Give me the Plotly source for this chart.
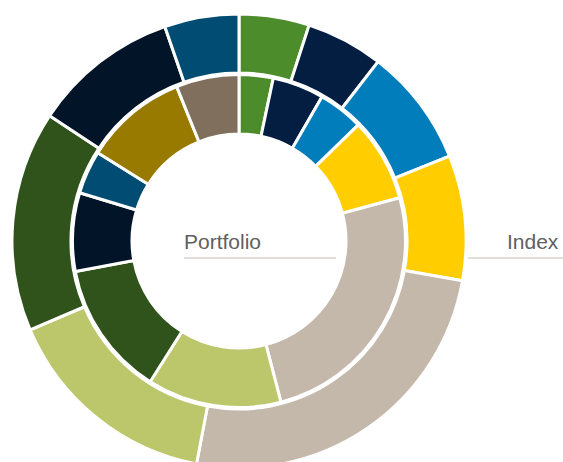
import plotly.graph_objects as go

# ---- data ----
categories = ["Cat 1", "Cat 2", "Cat 3", "Cat 4", "Cat 5", "Cat 6",
              "Cat 7", "Cat 8", "Cat 9", "Cat 10", "Cat 11"]
portfolio_values = [3.3, 5.0, 4.4, 8.1, 25.1, 13.0, 13.1, 7.6, 4.2, 10.0, 6.1]
index_categories = categories[:9]
index_values = [5.0, 5.5, 8.4, 8.9, 25.2, 15.6, 15.7, 10.4, 5.3]
colors = ["#4C8C2B", "#041E42", "#007DBA", "#FFCD00", "#C4B8AB", "#BCC66B",
          "#30531B", "#011428", "#004C73", "#997A00", "#7F6F5C"]
series_names = ["Portfolio", "Index"]

W, H = 563, 470
cx, cy = 239, 241          # centre in pixels from top-left
R_out, R_in = 227, 166.5   # outer radii of the two rings
hole_out = 168 / R_out
hole_in = 107 / R_in


def dom(r):
    return dict(x=[(cx - r) / W, (cx + r) / W],
                y=[(H - cy - r) / H, (H - cy + r) / H])


fig = go.Figure()
fig.add_trace(go.Pie(
    labels=index_categories, values=index_values, name=series_names[1],
    hole=hole_out, sort=False, direction="clockwise", rotation=0,
    marker=dict(colors=colors[:9], line=dict(color="white", width=3)),
    textinfo="none", hoverinfo="label+percent", domain=dom(R_out),
    showlegend=False))
fig.add_trace(go.Pie(
    labels=categories, values=portfolio_values, name=series_names[0],
    hole=hole_in, sort=False, direction="clockwise", rotation=0,
    marker=dict(colors=colors, line=dict(color="white", width=3)),
    textinfo="none", hoverinfo="label+percent", domain=dom(R_in),
    showlegend=False))

font = dict(family="Liberation Sans, Arial, sans-serif", size=21, color="#606060")
line_col = "#D9D3CB"
ly = (H - 258) / H
fig.add_annotation(x=182 / W, y=(H - 242) / H, xref="paper", yref="paper",
                   text=series_names[0], showarrow=False, xanchor="left",
                   yanchor="middle", font=font)
fig.add_annotation(x=505 / W, y=(H - 242) / H, xref="paper", yref="paper",
                   text=series_names[1], showarrow=False, xanchor="left",
                   yanchor="middle", font=font)
fig.add_shape(type="line", xref="paper", yref="paper", x0=184 / W, x1=336 / W,
              y0=ly, y1=ly, line=dict(color=line_col, width=1.5))
fig.add_shape(type="line", xref="paper", yref="paper", x0=468 / W, x1=1,
              y0=ly, y1=ly, line=dict(color=line_col, width=1.5))

fig.update_layout(width=W, height=H, margin=dict(l=0, r=0, t=0, b=0),
                  paper_bgcolor="white", plot_bgcolor="white")
fig.write_html("out.html",
               post_script="document.body.style.overflow='hidden';document.documentElement.style.overflow='hidden';")
